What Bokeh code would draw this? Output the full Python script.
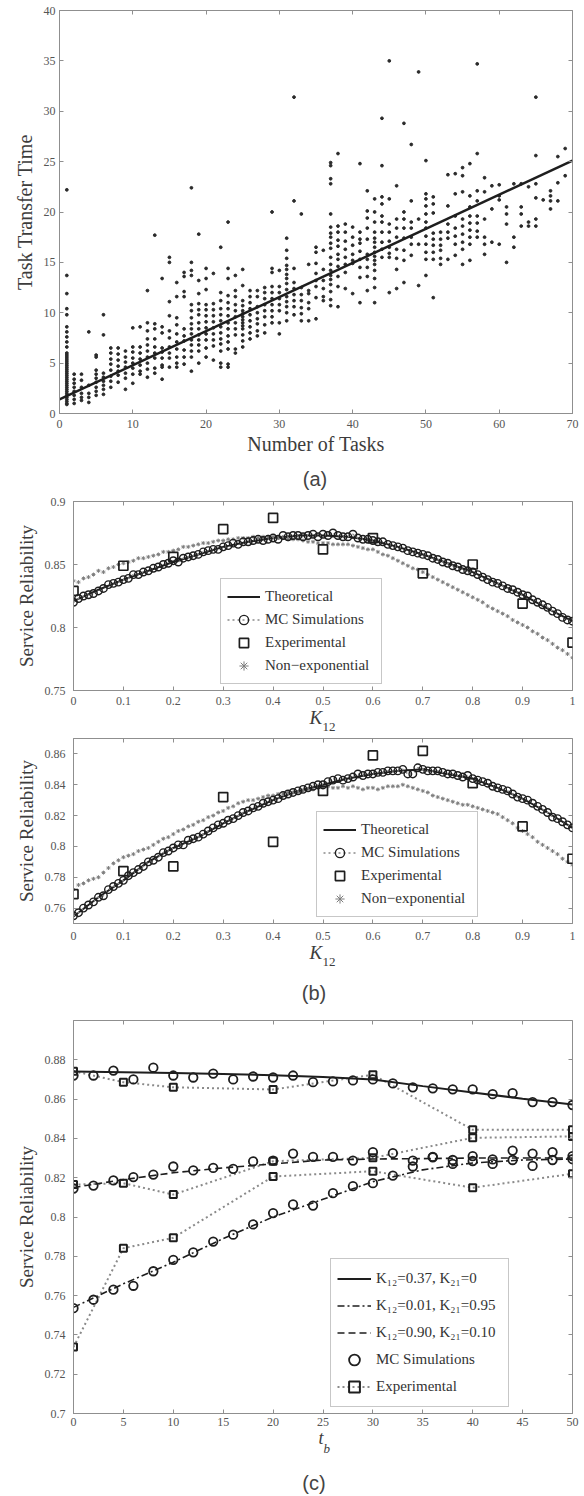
from bokeh.plotting import figure
from bokeh.models import Range1d, FixedTicker, LinearAxis, Legend, LegendItem, Title, Div
from bokeh.layouts import column
from bokeh.embed import file_html
from bokeh.resources import INLINE

# ---------------- Panel (a) data ----------------
task_counts = list(range(1, 70))
transfer_times = [
    [22.2, 13.7, 11.9, 10.4, 9.8, 8.6, 8.1, 7.6, 7.1, 6.6, 6.0, 5.6, 5.2, 4.8, 4.4, 4.0, 3.6, 3.2, 2.8, 2.4, 2.0, 1.6, 1.2, 0.9,
     5.8, 5.4, 5.0, 4.6, 4.2, 3.8, 3.4, 3.0, 2.6, 2.2, 1.8, 1.4, 1.0],
    [3.9, 3.4, 3.0, 2.6, 2.2, 1.8, 1.4, 1.0],
    [3.9, 3.3, 2.6, 2.0, 1.6, 1.3],
    [8.1, 2.8, 2.0, 1.6, 1.1],
    [5.8, 5.6, 4.3, 3.9, 3.5, 3.1, 2.6, 2.2, 1.8],
    [9.8, 7.8, 4.0, 3.6, 3.2, 2.8, 2.4, 1.9],
    [6.5, 6.0, 5.4, 4.9, 4.3, 3.7, 3.2, 2.6],
    [6.5, 5.9, 5.3, 4.7, 4.2, 3.8, 3.1],
    [6.2, 5.6, 5.1, 4.6, 4.0, 3.5, 2.4],
    [8.5, 6.6, 6.1, 5.5, 5.0, 4.5, 3.9, 3.0],
    [8.6, 6.6, 6.0, 5.4, 4.8, 4.2, 3.9],
    [12.2, 9.0, 8.2, 7.4, 6.8, 6.2, 5.6, 5.0, 4.4, 3.6],
    [17.7, 8.9, 8.4, 7.4, 6.6, 6.0, 5.5, 4.5, 4.0],
    [13.4, 8.6, 8.0, 6.5, 6.1, 5.5, 4.8, 4.6, 3.4],
    [15.5, 15.0, 11.1, 9.7, 8.2, 7.5, 6.6, 6.0, 5.5, 4.6],
    [13.0, 11.6, 9.5, 8.8, 7.9, 7.1, 6.4, 5.6, 5.0, 4.6],
    [14.0, 13.6, 12.1, 11.6, 8.4, 7.7, 7.2, 6.3, 5.6, 4.9],
    [22.4, 15.0, 14.2, 13.7, 10.8, 10.2, 9.5, 8.9, 8.4, 7.9, 7.3, 6.8, 6.2, 5.6, 4.2],
    [17.8, 13.2, 11.9, 10.9, 10.3, 9.8, 9.0, 8.4, 7.8, 7.3, 6.8, 6.2, 5.0],
    [14.4, 13.4, 12.3, 10.8, 10.3, 9.7, 9.1, 8.5, 7.9, 7.3, 6.5, 5.6],
    [13.9, 10.9, 10.3, 9.7, 9.1, 8.5, 7.9, 7.3, 6.7, 5.3],
    [16.5, 12.0, 11.2, 10.4, 9.8, 9.2, 8.6, 8.0, 7.4, 6.9, 6.2, 5.0, 4.6],
    [19.0, 14.4, 13.4, 11.7, 11.0, 10.4, 9.7, 9.0, 8.4, 7.7, 7.1, 6.4, 4.9, 4.6],
    [13.7, 12.2, 11.6, 10.8, 10.2, 9.6, 9.0, 8.4, 7.8, 6.4, 6.0],
    [14.3, 12.7, 11.2, 10.7, 10.2, 9.9, 9.6, 9.3, 9.0, 8.7, 8.4, 7.8, 7.2, 6.6],
    [12.2, 11.6, 11.0, 10.4, 9.8, 9.2, 8.6, 8.0, 7.4],
    [12.2, 11.6, 10.6, 10.0, 9.4, 8.9, 8.2, 7.7],
    [12.5, 12.0, 11.4, 10.8, 10.2, 9.6, 8.8, 8.0],
    [20.0, 14.4, 14.0, 12.6, 12.0, 11.4, 10.8, 10.2, 9.6, 9.0],
    [14.2, 12.6, 12.0, 11.4, 10.8, 10.2, 9.0, 7.9],
    [17.4, 16.2, 15.4, 14.7, 14.3, 13.8, 13.4, 12.9, 12.3, 11.6, 11.1, 10.6, 10.0, 9.2],
    [31.4, 21.1, 14.4, 13.0, 12.4, 11.8, 11.2, 10.6, 9.8],
    [19.8, 12.5, 11.8, 11.2, 10.5, 9.9, 9.2],
    [14.8, 12.2, 11.9, 11.0, 10.4, 9.2],
    [16.5, 16.0, 14.9, 13.9, 13.2, 12.6, 11.5, 9.4],
    [16.2, 14.3, 13.2, 12.4, 11.6, 11.2],
    [24.9, 24.6, 23.3, 22.8, 19.8, 18.5, 17.9, 17.5, 16.9, 16.4, 15.5, 14.8, 14.2, 13.7, 13.3, 12.8, 12.1, 11.3, 10.7],
    [25.8, 18.6, 18.0, 17.2, 16.6, 15.8, 15.3, 14.6, 13.6, 12.6, 10.6],
    [18.8, 18.0, 17.1, 16.3, 15.5, 14.8, 14.0, 12.4],
    [18.5, 17.5, 16.7, 15.8, 15.2, 14.9, 11.9],
    [24.8, 18.0, 17.3, 16.9, 16.1, 15.3, 14.5, 13.5, 11.0],
    [22.1, 20.1, 19.4, 18.4, 17.3, 15.8, 15.3, 14.5, 13.6, 12.2],
    [21.3, 20.0, 19.0, 18.0, 17.4, 17.0, 16.5, 16.0, 15.6, 15.2, 14.8, 14.2, 13.4, 12.5, 11.0],
    [29.3, 24.6, 21.5, 20.8, 19.6, 19.0, 18.0, 17.0, 16.3, 15.5],
    [35.0, 21.3, 18.8, 18.0, 17.1, 16.5, 15.9, 15.5, 12.0],
    [22.6, 19.3, 18.4, 17.5, 16.3, 15.4, 14.3, 12.4],
    [28.8, 20.0, 19.3, 18.4, 17.4, 16.2, 15.2, 13.0],
    [26.7, 21.1, 19.0, 18.4, 17.5, 16.8, 15.7],
    [33.9, 19.3, 16.8, 12.7],
    [25.1, 21.8, 21.3, 20.6, 19.8, 19.0, 18.4, 17.6, 16.8, 16.0, 15.3, 13.7],
    [21.5, 20.8, 19.9, 17.9, 17.3, 16.7, 16.0, 15.3, 11.5],
    [18.0, 17.3, 16.7, 16.2, 15.4, 14.8],
    [23.7, 20.6, 18.8, 18.0, 17.4, 15.3],
    [23.8, 21.8, 19.6, 18.4, 17.6, 16.8, 15.7],
    [24.4, 23.6, 22.0, 19.3, 18.6, 17.8, 17.0, 16.3, 14.8],
    [24.8, 21.6, 20.5, 19.6, 18.9, 18.2, 17.5, 16.8, 15.2],
    [34.7, 25.8, 22.1, 21.1, 19.6, 18.9, 18.1, 17.5],
    [23.4, 22.0, 19.3, 17.5, 16.8, 15.8],
    [22.6, 20.3, 17.0],
    [22.7, 21.6, 21.2, 16.8],
    [20.5, 19.8, 18.8, 15.0],
    [22.8, 17.5, 16.5],
    [22.8, 20.5, 19.8, 18.6],
    [22.5, 19.0, 18.6],
    [31.4, 25.6, 22.8, 21.4, 19.3, 18.6],
    [21.2],
    [22.1, 21.6, 21.1, 20.3],
    [25.5, 22.9, 21.1],
    [26.3, 23.6],
]
fit_tasks = [0, 70]
fit_time = [1.4, 25.1]
a_xticks = [0, 10, 20, 30, 40, 50, 60, 70]
a_yticks = [0, 5, 10, 15, 20, 25, 30, 35, 40]

# ---------------- Panel (b) data ----------------
k_knots = [0, 0.05, 0.1, 0.15, 0.2, 0.25, 0.3, 0.35, 0.4, 0.45, 0.5,
           0.55, 0.6, 0.65, 0.7, 0.75, 0.8, 0.85, 0.9, 0.95, 1.0]
k_exp = [0, 0.1, 0.2, 0.3, 0.4, 0.5, 0.6, 0.7, 0.8, 0.9, 1.0]
k_grid = [round(i * 0.01, 2) for i in range(101)]

b1_theory = [0.821, 0.830, 0.838, 0.845, 0.852, 0.858, 0.864, 0.868, 0.871, 0.873, 0.873,
             0.872, 0.869, 0.864, 0.858, 0.851, 0.844, 0.835, 0.826, 0.815, 0.805]
b1_mc = [0.820, 0.823, 0.825, 0.826, 0.827, 0.829, 0.831, 0.834, 0.835, 0.836,
         0.838, 0.839, 0.842, 0.842, 0.844, 0.845, 0.847, 0.848, 0.850, 0.851,
         0.853, 0.852, 0.855, 0.856, 0.857, 0.858, 0.860, 0.861, 0.862, 0.862,
         0.864, 0.865, 0.867, 0.866, 0.868, 0.868, 0.869, 0.870, 0.869, 0.870,
         0.871, 0.870, 0.873, 0.872, 0.873, 0.873, 0.872, 0.873, 0.874, 0.872,
         0.874, 0.873, 0.875, 0.873, 0.872, 0.872, 0.874, 0.871, 0.870, 0.870,
         0.869, 0.868, 0.868, 0.866, 0.865, 0.864, 0.863, 0.861, 0.860, 0.859,
         0.858, 0.857, 0.855, 0.854, 0.852, 0.851, 0.849, 0.848, 0.846, 0.845,
         0.844, 0.842, 0.840, 0.838, 0.836, 0.835, 0.833, 0.831, 0.830, 0.828,
         0.826, 0.825, 0.822, 0.820, 0.818, 0.816, 0.813, 0.811, 0.808, 0.806,
         0.805]
b1_nonexp = [0.837, 0.836, 0.839, 0.840, 0.842, 0.845, 0.844, 0.847, 0.848, 0.850,
             0.851, 0.852, 0.853, 0.855, 0.855, 0.856, 0.857, 0.858, 0.860, 0.860,
             0.861, 0.862, 0.864, 0.864, 0.865, 0.866, 0.867, 0.867, 0.868, 0.869,
             0.869, 0.870, 0.870, 0.871, 0.871, 0.871, 0.872, 0.871, 0.872, 0.872,
             0.872, 0.871, 0.871, 0.870, 0.870, 0.870, 0.869, 0.868, 0.868, 0.867,
             0.867, 0.867, 0.866, 0.866, 0.866, 0.866, 0.865, 0.864, 0.863, 0.862,
             0.862, 0.860, 0.858, 0.857, 0.855, 0.853, 0.851, 0.849, 0.847, 0.846,
             0.844, 0.842, 0.840, 0.838, 0.836, 0.834, 0.832, 0.830, 0.828, 0.826,
             0.824, 0.822, 0.820, 0.817, 0.815, 0.813, 0.811, 0.809, 0.806, 0.804,
             0.802, 0.800, 0.797, 0.795, 0.792, 0.790, 0.787, 0.784, 0.782, 0.779,
             0.776]
b1_exp = [0.829, 0.849, 0.856, 0.878, 0.887, 0.862, 0.871, 0.843, 0.850, 0.819, 0.788]

b2_theory = [0.7545, 0.767, 0.778, 0.790, 0.799, 0.806, 0.815, 0.823, 0.830, 0.836, 0.840,
             0.844, 0.847, 0.849, 0.850, 0.847, 0.844, 0.838, 0.831, 0.822, 0.812]
b2_mc = [0.755, 0.757, 0.760, 0.762, 0.764, 0.767, 0.768, 0.772, 0.774, 0.776,
         0.778, 0.781, 0.783, 0.785, 0.787, 0.790, 0.791, 0.793, 0.796, 0.797,
         0.799, 0.801, 0.801, 0.804, 0.805, 0.806, 0.808, 0.810, 0.812, 0.814,
         0.815, 0.817, 0.818, 0.820, 0.822, 0.823, 0.825, 0.826, 0.828, 0.829,
         0.830, 0.831, 0.833, 0.834, 0.835, 0.836, 0.837, 0.838, 0.839, 0.840,
         0.840, 0.842, 0.843, 0.844, 0.843, 0.844, 0.845, 0.847, 0.846, 0.847,
         0.847, 0.848, 0.848, 0.849, 0.849, 0.849, 0.850, 0.847, 0.847, 0.851,
         0.850, 0.849, 0.849, 0.849, 0.848, 0.847, 0.847, 0.846, 0.845, 0.846,
         0.844, 0.843, 0.842, 0.841, 0.839, 0.838, 0.837, 0.836, 0.834, 0.832,
         0.831, 0.830, 0.828, 0.826, 0.824, 0.822, 0.819, 0.818, 0.816, 0.814,
         0.812]
b2_nonexp = [0.772, 0.775, 0.776, 0.778, 0.779, 0.780, 0.783, 0.786, 0.789, 0.791,
             0.793, 0.794, 0.795, 0.797, 0.798, 0.799, 0.801, 0.803, 0.805, 0.806,
             0.808, 0.810, 0.811, 0.813, 0.814, 0.816, 0.817, 0.819, 0.820, 0.822,
             0.823, 0.825, 0.826, 0.828, 0.829, 0.830, 0.830, 0.831, 0.832, 0.833,
             0.833, 0.834, 0.834, 0.835, 0.835, 0.835, 0.836, 0.837, 0.837, 0.838,
             0.838, 0.839, 0.838, 0.838, 0.839, 0.838, 0.839, 0.838, 0.837, 0.838,
             0.838, 0.837, 0.838, 0.839, 0.839, 0.839, 0.840, 0.839, 0.838, 0.837,
             0.836, 0.835, 0.833, 0.832, 0.831, 0.830, 0.829, 0.828, 0.827, 0.827,
             0.826, 0.825, 0.824, 0.823, 0.822, 0.821, 0.819, 0.817, 0.815, 0.812,
             0.810, 0.808, 0.806, 0.803, 0.801, 0.799, 0.797, 0.795, 0.792, 0.790,
             0.788]
b2_exp = [0.769, 0.784, 0.787, 0.832, 0.803, 0.836, 0.859, 0.862, 0.841, 0.813, 0.792]

k_tick_labels = ["0", "0.1", "0.2", "0.3", "0.4", "0.5", "0.6", "0.7", "0.8", "0.9", "1"]
b1_yticks = [0.75, 0.8, 0.85, 0.9]
b1_ylabels = ["0.75", "0.8", "0.85", "0.9"]
b2_yticks = [0.76, 0.78, 0.8, 0.82, 0.84, 0.86]
b2_ylabels = ["0.76", "0.78", "0.8", "0.82", "0.84", "0.86"]

# ---------------- Panel (c) data ----------------
tb_line = [0, 5, 10, 15, 20, 25, 30, 35, 40, 45, 50]
tb_mc = [0, 2, 4, 6, 8, 10, 12, 14, 16, 18, 20, 22, 24, 26, 28, 30, 32, 34, 36, 38, 40, 42, 44, 46, 48, 50]
tb_exp = [0, 5, 10, 20, 30, 40, 50]

c_theory1 = [0.8740, 0.8737, 0.8733, 0.8728, 0.8722, 0.8712, 0.8700, 0.8666, 0.8634, 0.8602, 0.8572]
c_theory2 = [0.754, 0.766, 0.777, 0.789, 0.800, 0.809, 0.818, 0.824, 0.8275, 0.829, 0.8295]
c_theory3 = [0.815, 0.819, 0.8225, 0.825, 0.827, 0.829, 0.8295, 0.8297, 0.830, 0.830, 0.830]

c_mc1 = [0.872, 0.872, 0.8745, 0.870, 0.876, 0.872, 0.871, 0.873, 0.870, 0.8715, 0.871, 0.872, 0.8686,
         0.869, 0.8695, 0.870, 0.868, 0.866, 0.8655, 0.865, 0.865, 0.8625, 0.863, 0.8585, 0.8585, 0.857]
c_mc2 = [0.7536, 0.7579, 0.763, 0.765, 0.7724, 0.7782, 0.782, 0.7875, 0.791, 0.7962, 0.802, 0.8064, 0.8058,
         0.8121, 0.8157, 0.8172, 0.8211, 0.8257, 0.8304, 0.827, 0.8285, 0.827, 0.829, 0.826, 0.829, 0.8294]
c_mc3 = [0.8145, 0.816, 0.8186, 0.8203, 0.8216, 0.8257, 0.8237, 0.825, 0.8245, 0.8283, 0.8287, 0.8323, 0.8306,
         0.8306, 0.8287, 0.833, 0.8325, 0.8287, 0.8306, 0.829, 0.831, 0.8293, 0.8338, 0.8323, 0.833, 0.831]

c_exp1 = [0.8742, 0.8686, 0.866, 0.8649, 0.8724, 0.8444, 0.8444]
c_exp2 = [0.7338, 0.7841, 0.7894, 0.8206, 0.8233, 0.8149, 0.822]
c_exp3 = [0.8165, 0.8172, 0.8114, 0.8284, 0.8301, 0.8403, 0.841]

c_xticks = [0, 5, 10, 15, 20, 25, 30, 35, 40, 45, 50]
c_yticks = [0.7, 0.72, 0.74, 0.76, 0.78, 0.8, 0.82, 0.84, 0.86, 0.88]
c_ylabels = ["0.7", "0.72", "0.74", "0.76", "0.78", "0.8", "0.82", "0.84", "0.86", "0.88"]

# ---------------- styling helpers ----------------
AX = "#8f8f8f"
TXT = "#555555"
LBL = "#3c3c3c"
INK = "#1e1e1e"
GRAY = "#8a8a8a"
SERIF = "Liberation Serif"
SANS = "Liberation Sans"
W = 584


def make_fig(h, xr, yr, left, top, bottom):
    p = figure(width=W, height=h, x_range=Range1d(*xr), y_range=Range1d(*yr),
               output_backend="svg", toolbar_location=None,
               min_border_left=left, min_border_right=12,
               min_border_top=top, min_border_bottom=bottom)
    p.frame_align = False
    p.grid.visible = False
    p.outline_line_color = AX
    p.background_fill_color = "white"
    p.border_fill_color = "white"
    return p


def style_axes(p, xticks, xlabels, yticks, ylabels, xstand, ystand):
    bx, ly = p.below[0], p.left[0]
    bx.ticker = FixedTicker(ticks=xticks)
    bx.major_label_overrides = dict(zip(xticks, xlabels))
    ly.ticker = FixedTicker(ticks=yticks)
    ly.major_label_overrides = dict(zip(yticks, ylabels))
    bx.major_label_standoff = xstand
    ly.major_label_standoff = ystand
    for ax in (bx, ly):
        ax.axis_line_color = AX
        ax.major_tick_line_color = AX
        ax.major_tick_in = 4
        ax.major_tick_out = 0
        ax.minor_tick_line_color = None
        ax.major_label_text_font = SERIF
        ax.major_label_text_font_size = "12px"
        ax.major_label_text_color = TXT
        ax.axis_label_text_font = SERIF
        ax.axis_label_text_font_style = "normal"
        ax.axis_label_text_color = LBL
    for side, ticks in (("above", xticks), ("right", yticks)):
        mirror = LinearAxis(ticker=FixedTicker(ticks=ticks), major_label_text_font_size="1px",
                            major_label_text_color=None, major_tick_in=4, major_tick_out=0,
                            axis_line_color=None, major_tick_line_color=AX,
                            minor_tick_line_color=None, major_label_standoff=0)
        p.add_layout(mirror, side)


def below_text(p, text, size, style, offset, standoff):
    p.add_layout(Title(text=text, align="left", offset=offset, standoff=standoff,
                       text_font=SERIF, text_font_size=size, text_font_style=style,
                       text_color=LBL), "below")


def caption(text, height, pad_left):
    html = ('<div style="width:%dpx;box-sizing:border-box;padding-left:%dpx;text-align:center;'
            'font-family:\'Liberation Sans\';font-size:20px;color:#444444;line-height:%dpx;">%s</div>'
            % (W, pad_left, height, text))
    return Div(text=html, width=W, height=height, margin=(0, 0, 0, 0))


def make_legend(items, loc, row_h, glyph_w, label_w):
    leg = Legend(items=items, location=loc, orientation="vertical")
    leg.border_line_color = AX
    leg.border_line_width = 1
    leg.background_fill_color = "white"
    leg.background_fill_alpha = 1
    leg.label_text_font = SERIF
    leg.label_text_font_size = "15px"
    leg.label_text_color = "#333333"
    leg.glyph_width = glyph_w
    leg.glyph_height = row_h
    leg.label_height = row_h
    leg.label_width = label_w
    leg.spacing = 0
    leg.padding = 6
    leg.margin = 0
    leg.label_standoff = 5
    return leg


# ---------------- Panel (a) ----------------
pa = make_fig(466, (0, 70), (0, 40), 59, 10, 53)
style_axes(pa, a_xticks, [str(t) for t in a_xticks], a_yticks, [str(t) for t in a_yticks], 6, 4)
pa.below[0].axis_label = "Number of Tasks"
pa.left[0].axis_label = "Task Transfer Time"
pa.below[0].axis_label_text_font_size = "20px"
pa.left[0].axis_label_text_font_size = "20px"
pa.below[0].axis_label_standoff = 2
pa.left[0].axis_label_standoff = 5
scatter_x = [n for n, col in zip(task_counts, transfer_times) for _ in col]
scatter_y = [v for col in transfer_times for v in col]
pa.scatter(scatter_x, scatter_y, marker="circle", size=2.8, color="#2a2a2a")
pa.line(fit_tasks, fit_time, line_color=INK, line_width=2.5)
cap_a = caption("(a)", 26, 46)


# ---------------- Panel (b) ----------------
def panel_b(p, theory, mc, nonexp, exp, loc):
    r_th = p.line(k_knots, theory, line_color=INK, line_width=2)
    r_mcl = p.line(k_grid, mc, line_color=GRAY, line_width=1.5, line_dash="2 3")
    r_ne = p.scatter(k_grid, nonexp, marker="asterisk", size=4, line_color="#7d7d7d", line_width=1)
    r_mc = p.scatter(k_grid, mc, marker="circle", size=7.5, line_color=INK, fill_color=None, line_width=1.4)
    r_ex = p.scatter(k_exp, exp, marker="square", size=9, line_color=INK, fill_color=None, line_width=1.7)
    items = [LegendItem(label="Theoretical", renderers=[r_th]),
             LegendItem(label="MC Simulations", renderers=[r_mcl, r_mc]),
             LegendItem(label="Experimental", renderers=[r_ex]),
             LegendItem(label="Non\u2212exponential", renderers=[r_ne])]
    p.add_layout(make_legend(items, loc, 23, 33, 110))


pb1 = make_fig(241, (0, 1), (0.75, 0.9), 73, 9, 43)
style_axes(pb1, k_exp, k_tick_labels, b1_yticks, b1_ylabels, 6, 8)
pb1.left[0].axis_label = "Service Reliability"
pb1.left[0].axis_label_text_font_size = "19px"
pb1.left[0].axis_label_standoff = 5
panel_b(pb1, b1_theory, b1_mc, b1_nonexp, b1_exp, (147, 6))
below_text(pb1, "K", "19px", "italic", 236, -6)
below_text(pb1, "12", "13px", "normal", 249, -12)

pb2 = make_fig(247, (0, 1), (0.75, 0.87), 73, 5, 57)
style_axes(pb2, k_exp, k_tick_labels, b2_yticks, b2_ylabels, 8, 8)
pb2.left[0].axis_label = "Service Reliability"
pb2.left[0].axis_label_text_font_size = "19px"
pb2.left[0].axis_label_standoff = 5
panel_b(pb2, b2_theory, b2_mc, b2_nonexp, b2_exp, (243, 6))
below_text(pb2, "K", "19px", "italic", 236, -6)
below_text(pb2, "12", "13px", "normal", 249, -12)
cap_b = caption("(b)", 26, 44)

# ---------------- Panel (c) ----------------
pc = make_fig(465, (0, 50), (0.7, 0.9), 73, 14, 58)
style_axes(pc, c_xticks, [str(t) for t in c_xticks], c_yticks, c_ylabels, 4, 8)
pc.left[0].axis_label = "Service Reliability"
pc.left[0].axis_label_text_font_size = "19px"
pc.left[0].axis_label_standoff = 5

r_e = []
for ys in (c_exp1, c_exp2, c_exp3):
    r_e.append(pc.line(tb_exp, ys, line_color=GRAY, line_width=2, line_dash="2 3"))
r_l1 = pc.line(tb_line, c_theory1, line_color=INK, line_width=2)
r_l2 = pc.line(tb_line, c_theory2, line_color=INK, line_width=1.6, line_dash="7 3 2 3")
r_l3 = pc.line(tb_line, c_theory3, line_color=INK, line_width=1.6, line_dash="7 4")
r_m = []
for ys in (c_mc1, c_mc2, c_mc3):
    r_m.append(pc.scatter(tb_mc, ys, marker="circle", size=8.5, line_color=INK, fill_color=None, line_width=1.8))
r_s = []
for ys in (c_exp1, c_exp2, c_exp3):
    r_s.append(pc.scatter(tb_exp, ys, marker="square", size=7, line_color=INK, fill_color=None, line_width=2))

c_items = [LegendItem(label="K\u2081\u2082=0.37, K\u2082\u2081=0", renderers=[r_l1]),
           LegendItem(label="K\u2081\u2082=0.01, K\u2082\u2081=0.95", renderers=[r_l2]),
           LegendItem(label="K\u2081\u2082=0.90, K\u2082\u2081=0.10", renderers=[r_l3]),
           LegendItem(label="MC Simulations", renderers=[r_m[0]]),
           LegendItem(label="Experimental", renderers=[r_e[0], r_s[0]])]
pc.add_layout(make_legend(c_items, (257, 6), 27, 34, 126))
below_text(pc, "t", "18px", "italic", 245, -6)
below_text(pc, "b", "13px", "italic", 250, -12)
cap_c = caption("(c)", 25, 44)

layout = column(pa, cap_a, pb1, pb2, cap_b, pc, cap_c, spacing=0)
open("out.html", "w").write(file_html(layout, INLINE))
